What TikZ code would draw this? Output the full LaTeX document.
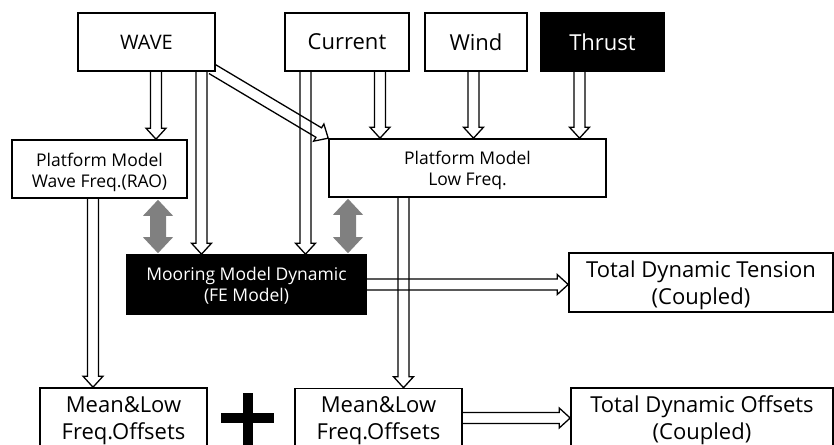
\documentclass[tikz,border=0pt]{standalone}
\usepackage{fontspec}
\setmainfont{Open Sans}
\usetikzlibrary{calc,backgrounds}

% hollow block arrow: outline only, open at the tail
\newcommand\harrow[2]{%
  \coordinate (hs) at (#1);
  \coordinate (ht) at (#2);
  \coordinate (hb) at ($(ht)!11pt!(hs)$);
  \draw[hollow] ($(hs)!5.5pt!90:(ht)$) -- ($(hb)!5.5pt!-90:(hs)$) -- ($(hb)!10pt!-90:(hs)$)
    -- (ht) -- ($(hb)!10pt!90:(hs)$) -- ($(hb)!5.5pt!90:(hs)$) -- ($(hs)!5.5pt!-90:(ht)$);
}
% solid grey two-headed arrow
\newcommand\garrow[2]{%
  \coordinate (gs) at (#1);
  \coordinate (gt) at (#2);
  \coordinate (ga) at ($(gs)!16pt!(gt)$);
  \coordinate (gb) at ($(gt)!16pt!(gs)$);
  \fill[greyarrow] (gs) -- ($(ga)!15pt!90:(gt)$) -- ($(ga)!8pt!90:(gt)$) -- ($(gb)!8pt!-90:(gs)$)
    -- ($(gb)!15pt!-90:(gs)$) -- (gt) -- ($(gb)!15pt!90:(gs)$) -- ($(gb)!8pt!90:(gs)$)
    -- ($(ga)!8pt!-90:(gt)$) -- ($(ga)!15pt!-90:(gt)$) -- cycle;
}

\begin{document}
\begin{tikzpicture}[x=1pt,y=-1pt,
  box/.style={draw=black,line width=1.6pt,fill=white,inner sep=0pt,align=center,minimum height=58pt},
  dark/.style={box,fill=black,text=white},
  bigtxt/.style={font=\fontsize{22}{26}\selectfont},
  txt/.style={inner sep=0pt,align=center,anchor=north},
  midtxt/.style={txt,font=\fontsize{22}{27}\selectfont},
  smalltxt/.style={txt,font=\fontsize{17.5}{21}\selectfont},
  hollow/.style={draw=black,line width=1.3pt,line join=miter},
  greyarrow/.style={fill=black!50}]
\useasboundingbox (0,0) rectangle (834,444);

% sources
\node[box,minimum width=137pt,font=\fontsize{20}{24}\selectfont] (wave) at (146.5,42) {WAVE};
\node[box,bigtxt,minimum width=124pt] (current) at (347,42) {Current};
\node[box,bigtxt,minimum width=102pt] (wind) at (476,42) {Wind};
\node[dark,bigtxt,minimum width=123pt] (thrust) at (602.5,42) {Thrust};

% models
\node[box,minimum width=175pt] (pfw) at (99.5,169) {};
\node[smalltxt] (pfw-t) at ($(pfw.north)+(0,13.3)$) {Platform Model\\Wave Freq.(RAO)};
\node[box,minimum width=277pt] (pfl) at (467.5,168) {};
\node[smalltxt] (pfl-t) at ($(pfl.north)+(0,13)$) {Platform Model\\Low Freq.};
\node[dark,minimum width=239pt,minimum height=59pt] (moor) at (246.5,284.5) {};
\node[smalltxt,text=white] (moor-t) at ($(moor.north)+(0,13)$) {Mooring Model Dynamic\\(FE Model)};

% results
\node[box,minimum width=264pt,minimum height=59pt] (tension) at (701,282.5) {};
\node[midtxt] (tension-t) at ($(tension.north)+(0,8.5)$) {Total Dynamic Tension\\(Coupled)};
\node[box,minimum width=167pt,minimum height=59pt] (off1) at (123.5,417.5) {};
\node[midtxt] (off1-t) at ($(off1.north)+(0,9)$) {Mean\&Low\\Freq.Offsets};
\node[box,minimum width=167pt,minimum height=59pt] (off2) at (378.5,418) {};
\node[midtxt] (off2-t) at ($(off2.north)+(0,9)$) {Mean\&Low\\Freq.Offsets};
\node[box,minimum width=262pt,minimum height=59pt] (toff) at (702,417.5) {};
\node[midtxt] (toff-t) at ($(toff.north)+(0,8.5)$) {Total Dynamic Offsets\\(Coupled)};

% plus sign between the two offset boxes
\fill (243,393) rectangle (253,450);
\fill (221,413) rectangle (274,422.5);

% arrow columns
\coordinate (c1) at (156,0);
\coordinate (c2) at (201.5,0);
\coordinate (c3) at (305.5,0);
\coordinate (c4) at (380,0);
\coordinate (c5) at (473.5,0);
\coordinate (c6) at (579.5,0);
\coordinate (c7) at (93,0);
\coordinate (c8) at (403.5,0);
\coordinate (g1) at (158,0);
\coordinate (g2) at (348,0);

\begin{scope}[on background layer]
  \harrow{c1 |- wave.south}{c1 |- pfw.north}
  \harrow{c2 |- wave.south}{c2 |- moor.north}
  \harrow{$(wave.south east)+(-4,-3)$}{pfl.north west}
  \harrow{c3 |- current.south}{c3 |- moor.north}
  \harrow{c4 |- current.south}{c4 |- pfl.north}
  \harrow{c5 |- wind.south}{c5 |- pfl.north}
  \harrow{c6 |- thrust.south}{c6 |- pfl.north}
  \harrow{c7 |- pfw.south}{c7 |- off1.north}
  \harrow{c8 |- pfl.south}{c8 |- off2.north}
  \harrow{moor.east}{moor.east -| tension.west}
  \harrow{off2.east}{off2.east -| toff.west}
\end{scope}

% coupling between platform and mooring models
\garrow{$(g1 |- pfw.south)+(0,1)$}{$(g1 |- moor.north)+(0,-1)$}
\garrow{$(g2 |- pfl.south)+(0,1)$}{$(g2 |- moor.north)+(0,-1)$}
\end{tikzpicture}
\end{document}
